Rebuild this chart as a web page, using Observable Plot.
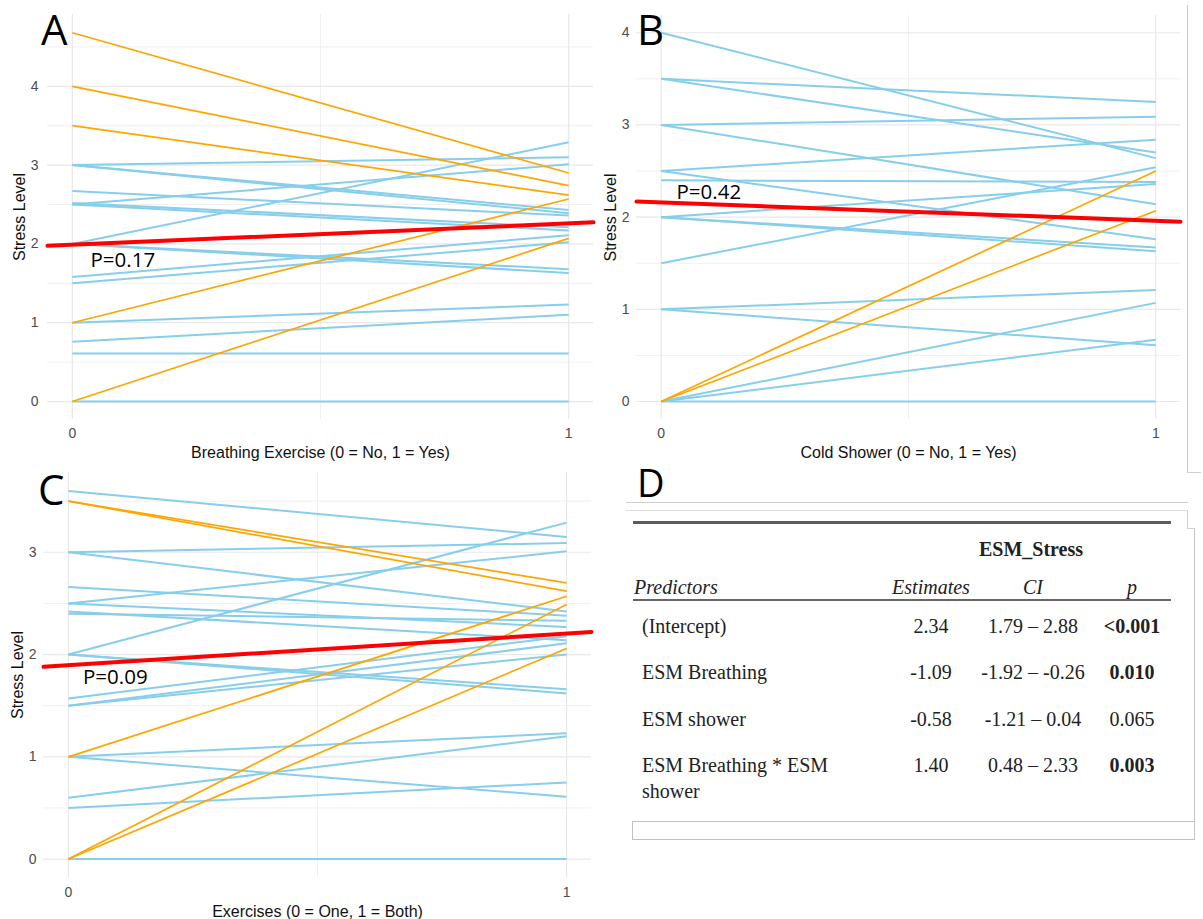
<!DOCTYPE html>
<html>
<head>
<meta charset="utf-8">
<script src="https://cdn.jsdelivr.net/npm/d3@7"></script>
<script src="https://cdn.jsdelivr.net/npm/@observablehq/plot@0.6"></script>
<style>
  html, body { margin: 0; padding: 0; background: #fff; }
  #root { position: relative; width: 1203px; height: 919px; overflow: hidden; background: #fff; }
  .panel { position: absolute; }
  .letter { position: absolute; font-family: "Open Sans", sans-serif; color: #000; line-height: normal; font-size: 42px; }
  .t { position: absolute; font-family: "Liberation Serif", "Times New Roman", serif; font-size: 20px; line-height: 26px; color: #222; white-space: nowrap; }
  .c { text-align: center; width: 140px; }
  .hr { position: absolute; }
</style>
</head>
<body>
<div id="root"></div>
<script>
// ---------- Panel A: Breathing exercise ----------
const aStart = [3.0, 3.0, 3.0, 2.67, 2.5, 2.52, 2.5, 2.0, 2.0, 2.0, 1.58, 1.5, 1.0, 0.76, 0.61, 0, 4.68, 4.0, 3.5, 1.0, 0];
const aEnd   = [3.10, 2.43, 2.39, 2.36, 3.01, 2.21, 2.17, 3.29, 1.68, 1.63, 2.11, 2.02, 1.23, 1.10, 0.61, 0, 2.90, 2.74, 2.62, 2.57, 2.07];
const aGroup = ["b","b","b","b","b","b","b","b","b","b","b","b","b","b","b","b","o","o","o","o","o"];
const aFit = {intercept: 1.99, slope: 0.27};

// ---------- Panel B: Cold shower ----------
const bStart = [4.0, 3.5, 3.5, 3.0, 3.0, 2.5, 2.5, 2.4, 2.0, 2.0, 2.0, 1.5, 1.0, 1.0, 0, 0, 0, 0, 0];
const bEnd   = [2.64, 3.25, 2.70, 3.09, 2.14, 2.84, 1.76, 2.38, 2.36, 1.67, 1.63, 2.54, 1.21, 0.61, 1.07, 0.67, 0, 2.50, 2.07];
const bGroup = ["b","b","b","b","b","b","b","b","b","b","b","b","b","b","b","b","b","o","o"];
const bFit = {intercept: 2.16, slope: -0.20};

// ---------- Panel C: Exercises (one vs both) ----------
const cStart = [3.6, 3.0, 3.0, 2.66, 2.5, 2.5, 2.4, 2.42, 2.0, 2.0, 2.0, 1.57, 1.5, 1.5, 1.0, 1.0, 0.6, 0.5, 0, 3.5, 3.5, 1.0, 0, 0];
const cEnd   = [3.15, 3.09, 2.42, 2.38, 3.01, 2.27, 2.33, 2.14, 3.29, 1.66, 1.62, 2.18, 2.11, 2.0, 1.23, 0.61, 1.20, 0.75, 0, 2.70, 2.62, 2.57, 2.49, 2.06];
const cGroup = ["b","b","b","b","b","b","b","b","b","b","b","b","b","b","b","b","b","b","b","o","o","o","o","o"];
const cFit = {intercept: 1.895, slope: 0.31};

// ---------- tick values ----------
const xTicks = [0, 1];
const xMinor = [0.5];
const yTicksAB = [0, 1, 2, 3, 4];
const yMinorA = [0.5, 1.5, 2.5, 3.5, 4.5];
const yMinorB = [0.5, 1.5, 2.5, 3.5];
const yTicksC = [0, 1, 2, 3];
const yMinorC = [0.5, 1.5, 2.5, 3.5];

// ---------- Panel D: table ----------
const tPredictors = ["(Intercept)", "ESM Breathing", "ESM shower", "ESM Breathing * ESM shower"];
const tEstimates = ["2.34", "-1.09", "-0.58", "1.40"];
const tCI = ["1.79 \u2013 2.88", "-1.92 \u2013 -0.26", "-1.21 \u2013 0.04", "0.48 \u2013 2.33"];
const tP = ["<0.001", "0.010", "0.065", "0.003"];
const tPBold = [true, true, false, true];

const BLUE = "#87CEEB", ORANGE = "#FFA500", RED = "#FF0000";
const root = document.getElementById("root");

function panel(cfg) {
  const segs = cfg.starts.map((s, i) => ({x1: 0, x2: 1, y1: s, y2: cfg.ends[i], g: cfg.groups[i]}));
  const xd = [-0.05, 1.05];
  const fit = xd.map(x => ({x, y: cfg.fit.intercept + cfg.fit.slope * x}));
  const chart = Plot.plot({
    width: cfg.width, height: cfg.height,
    marginLeft: cfg.mL, marginRight: cfg.mR, marginTop: cfg.mT, marginBottom: cfg.mB,
    x: {domain: xd},
    y: {domain: cfg.yDomain},
    style: {fontFamily: "'Liberation Sans', Arial, sans-serif", color: "#4d4d4d", background: "transparent", overflow: "visible"},
    marks: [
      Plot.ruleY(cfg.yMinor, {stroke: "#f0f0f0", strokeWidth: 1}),
      Plot.ruleX(xMinor, {stroke: "#f0f0f0", strokeWidth: 1}),
      Plot.ruleY(cfg.yTicks, {stroke: "#e8e8e8", strokeWidth: 1.2}),
      Plot.ruleX(xTicks, {stroke: "#e8e8e8", strokeWidth: 1.2}),
      Plot.axisY(cfg.yTicks, {tickSize: 0, tickPadding: cfg.yPad, fontSize: 14, label: null, tickFormat: d => String(d)}),
      Plot.axisX(xTicks, {tickSize: 0, tickPadding: cfg.xPad, fontSize: 14, label: null, tickFormat: d => String(d)}),
      Plot.link(segs.filter(d => d.g === "b"), {x1: "x1", y1: "y1", x2: "x2", y2: "y2", stroke: BLUE, strokeWidth: 2}),
      Plot.link(segs.filter(d => d.g === "o"), {x1: "x1", y1: "y1", x2: "x2", y2: "y2", stroke: ORANGE, strokeWidth: 1.7}),
      Plot.line(fit, {x: "x", y: "y", stroke: RED, strokeWidth: 4}),
      Plot.text([cfg.pLabel], {text: d => d, frameAnchor: "top-left", dx: cfg.pdx, dy: cfg.pdy, textAnchor: "start", lineAnchor: "middle", fontSize: 20.5, fontFamily: "'Open Sans', sans-serif", fill: "#000"}),
      Plot.text([cfg.xTitle], {text: d => d, frameAnchor: "bottom", dy: cfg.xTitleDy, textAnchor: "middle", lineAnchor: "middle", fontSize: 16, fill: "#111"}),
      Plot.text([cfg.yTitle], {text: d => d, frameAnchor: "left", dx: cfg.yTitleDx, rotate: -90, textAnchor: "middle", lineAnchor: "middle", fontSize: 16, fill: "#111"})
    ]
  });
  const wrap = document.createElement("div");
  wrap.className = "panel";
  wrap.style.left = cfg.left + "px";
  wrap.style.top = cfg.top + "px";
  wrap.appendChild(chart);
  root.appendChild(wrap);
}

panel({left: 0, top: 0, width: 600, height: 460, mL: 47, mR: 7, mT: 14, mB: 41,
  yDomain: [-0.228, 4.911], yTicks: yTicksAB, yMinor: yMinorA, yPad: 9, xPad: 9,
  starts: aStart, ends: aEnd, groups: aGroup, fit: aFit,
  pLabel: "P=0.17", pdx: 43, pdy: 245.5,
  xTitle: "Breathing Exercise (0 = No, 1 = Yes)", xTitleDy: 33,
  yTitle: "Stress Level", yTitleDx: -28});

panel({left: 600, top: 0, width: 603, height: 460, mL: 36, mR: 23, mT: 15, mB: 41,
  yDomain: [-0.195, 4.187], yTicks: yTicksAB, yMinor: yMinorB, yPad: 7, xPad: 9,
  starts: bStart, ends: bEnd, groups: bGroup, fit: bFit,
  pLabel: "P=0.42", pdx: 40, pdy: 177,
  xTitle: "Cold Shower (0 = No, 1 = Yes)", xTitleDy: 33,
  yTitle: "Stress Level", yTitleDx: -26});

panel({left: 0, top: 460, width: 600, height: 459, mL: 43, mR: 9, mT: 12, mB: 42,
  yDomain: [-0.18, 3.78], yTicks: yTicksC, yMinor: yMinorC, yPad: 7, xPad: 10,
  starts: cStart, ends: cEnd, groups: cGroup, fit: cFit,
  pLabel: "P=0.09", pdx: 39.5, pdy: 205,
  xTitle: "Exercises (0 = One, 1 = Both)", xTitleDy: 34,
  yTitle: "Stress Level", yTitleDx: -26});

// ---------- panel letters ----------
function addDiv(cls, text, left, top, extra) {
  const d = document.createElement("div");
  d.className = cls;
  d.textContent = text;
  d.style.left = left + "px";
  d.style.top = top + "px";
  if (extra) Object.assign(d.style, extra);
  root.appendChild(d);
  return d;
}
addDiv("letter", "A", 41, 0);
addDiv("letter", "B", 637, 0);
addDiv("letter", "C", 38, 460);
addDiv("letter", "D", 637, 456, {fontSize: "38px"});

// ---------- frame lines around table area ----------
function line(left, top, width, height, color) {
  const d = document.createElement("div");
  d.className = "hr";
  Object.assign(d.style, {left: left + "px", top: top + "px", width: width + "px", height: height + "px", background: color});
  root.appendChild(d);
}
line(1187, 5, 1, 468, "#c8c8c8");
line(1187, 472, 14, 1, "#d0d0d0");
line(626, 502, 562, 1, "#cfcfcf");
line(626, 510, 562, 1, "#dcdcdc");
line(1187, 510, 1, 18, "#d0d0d0");
line(1187, 528, 8, 1, "#d0d0d0");
line(1194, 528, 1, 312, "#c8c8c8");
line(632, 821, 563, 1, "#c0c0c0");
line(632, 839, 563, 1, "#c0c0c0");
line(632, 821, 1, 19, "#c0c0c0");
line(633, 521, 538, 3, "#5c5c5c");
line(633, 599, 538, 2, "#666");

// ---------- table text ----------
const colEst = 931, colCI = 1033, colP = 1132;
addDiv("t c", "ESM_Stress", 1031 - 70, 536, {fontWeight: "bold"});
addDiv("t", "Predictors", 634, 573.5, {fontStyle: "italic"});
addDiv("t c", "Estimates", colEst - 70, 573.5, {fontStyle: "italic"});
addDiv("t c", "CI", colCI - 70, 573.5, {fontStyle: "italic"});
addDiv("t c", "p", colP - 70, 573.5, {fontStyle: "italic"});
tPredictors.forEach((name, i) => {
  const top = 613 + i * 46.4;
  addDiv("t", name, 642, top, {whiteSpace: "normal", width: "205px"});
  addDiv("t c", tEstimates[i], colEst - 70, top);
  addDiv("t c", tCI[i], colCI - 70, top);
  addDiv("t c", tP[i], colP - 70, top, {fontWeight: tPBold[i] ? "bold" : "normal"});
});
</script>
</body>
</html>
